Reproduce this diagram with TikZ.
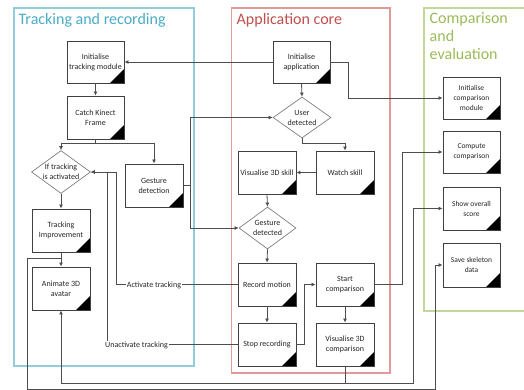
\documentclass[tikz,border=0pt]{standalone}
\usepackage{fontspec}
\setmainfont{Carlito}
\usetikzlibrary{arrows.meta,shapes.geometric}
\definecolor{boxc}{HTML}{404040}
\definecolor{diac}{HTML}{7F7F7F}
\definecolor{linec}{HTML}{4D4D4D}
\definecolor{txt}{HTML}{262626}
\definecolor{bluet}{HTML}{4BACC6}
\definecolor{blueb}{HTML}{92CDDC}
\definecolor{redt}{HTML}{C0504D}
\definecolor{redb}{HTML}{E09A98}
\definecolor{greent}{HTML}{9BBB59}
\definecolor{greenb}{HTML}{C3D69B}
\begin{document}
\begin{tikzpicture}[x=1pt,y=-1pt,
  stepbox/.style={draw=boxc, line width=0.9pt, fill=white, minimum width=58pt, minimum height=43pt,
    align=center, inner sep=1pt, font=\fontsize{8}{10}\selectfont, text=txt,
    path picture={\fill[black] (path picture bounding box.south east) -- ++(-14pt,0pt) -- ++(14pt,14pt) -- cycle;}},
  decision/.style={diamond, draw=diac, line width=0.7pt, fill=white, inner sep=0pt,
    minimum width=58pt, minimum height=42pt},
  dtext/.style={align=center, font=\fontsize{8}{10}\selectfont, text=txt, inner sep=0pt},
  conn/.style={draw=linec, line width=0.8pt},
  arr/.style={conn, -{Latex[length=4pt,width=4pt]}},
  lane/.style={line width=1.8pt},
  lanetitle/.style={anchor=base west, inner sep=0pt, font=\fontsize{16}{18}\selectfont, align=left},
  lbl/.style={fill=white, inner sep=1pt, font=\fontsize{8}{10}\selectfont, text=txt}]
\useasboundingbox (0,0) rectangle (524,389);
\fill[white] (0,0) rectangle (524,389);

% lanes
\draw[lane, blueb] (14,8) rectangle (194,366);
\draw[lane, redb] (231.5,8) rectangle (390,373);
\draw[lane, greenb] (424,8) rectangle (530,311);
\node[lanetitle, text=bluet] (t1) at (18.5,24.5) {Tracking and recording};
\node[lanetitle, text=redt] (t2) at (236.5,24.5) {Application core};
\node[lanetitle, text=greent, anchor=north west] (t3) at (429.5,12) {Comparison\\and\\evaluation};

% tracking and recording
\node[stepbox, minimum width=57pt, minimum height=42pt] (itm) at (95.5,62) {Initialise\\tracking module};
\node[stepbox, minimum width=57pt] (ckf) at (95.5,117.5) {Catch Kinect\\Frame};
\node[decision, minimum width=59pt, minimum height=43pt,
  label={[dtext]center:If tracking\\is activated}] (iftr) at (61,172) {};
\node[stepbox] (gdet) at (154,185.5) {Gesture\\detection};
\node[stepbox] (timp) at (61,230.5) {Tracking\\Improvement};
\node[stepbox] (anim) at (61,288.5) {Animate 3D\\avatar};

% application core
\node[stepbox, minimum width=57pt, minimum height=42pt] (iapp) at (301.5,62) {Initialise\\application};
\node[decision, minimum width=58pt, minimum height=41pt,
  label={[dtext]center:User\\detected}] (user) at (302,117.5) {};
\node[stepbox] (vis3d) at (267,172.5) {Visualise 3D skill};
\node[stepbox] (watch) at (345,172.5) {Watch skill};
\node[decision, minimum width=57pt, minimum height=42pt,
  label={[dtext]center:Gesture\\detected}] (gest) at (267.5,228) {};
\node[stepbox] (rec) at (267,284.5) {Record motion};
\node[stepbox] (startc) at (345,284.5) {Start\\comparison};
\node[stepbox] (stop) at (267,344.5) {Stop recording};
\node[stepbox] (vis3dc) at (345,344.5) {Visualise 3D\\comparison};

% comparison and evaluation
\node[stepbox, minimum width=57pt, minimum height=42pt, font=\fontsize{7.5}{10}\selectfont] (icm) at (471.5,98) {Initialise\\comparison\\module};
\node[stepbox, minimum width=57pt, minimum height=42pt, font=\fontsize{7.5}{10}\selectfont] (compc) at (471.5,152) {Compute\\comparison};
\node[stepbox, minimum width=57pt, minimum height=43pt, font=\fontsize{7.5}{10}\selectfont] (score) at (471.5,208.5) {Show overall\\score};
\node[stepbox, minimum width=57pt, minimum height=44pt, font=\fontsize{7.5}{10}\selectfont] (save) at (471.5,265) {Save skeleton\\data};

% junction coordinates
\coordinate (jck) at (95.5,143);
\coordinate (jgd) at (190,185.5);
\coordinate (jti) at (61,258);
\coordinate (jvc) at (345,383);

% connectors
\draw[arr] (iapp.west) -- (itm.east);
\draw[arr] (iapp.east) -- (348,62) |- (icm.west);
\draw[arr] (iapp.south) -- (user.north);
\draw[arr] (user.south) -- (302,143) -| (watch.north);
\draw[arr] (watch.west) -- (vis3d.east);
\draw[arr] (vis3d.south) -- (gest.north);
\draw[conn] (gdet.east) -- (jgd);
\draw[arr] (jgd) |- (user.west);
\draw[arr] (jgd) |- (gest.west);
\draw[arr] (itm.south) -- (ckf.north);
\draw[conn] (ckf.south) -- (jck);
\draw[arr] (jck) -| (iftr.north);
\draw[arr] (jck) -| (gdet.north);
\draw[arr] (iftr.south) -- (timp.north);
\draw[arr] (timp.south) -- (anim.north);
\draw[arr] (jti) -| (27,389) -- (435,389) |- (save.west);
\draw[arr] (gest.south) -- (rec.north);
\draw[arr] (rec.south) -- (stop.north);
\draw[arr] (stop.east) -- (304,344.5) |- (startc.west);
\draw[arr] (startc.south) -- (vis3dc.north);
\draw[arr] (startc.east) -- (402.5,284.5) |- (compc.west);
\draw[conn] (vis3dc.south) -- (jvc);
\draw[arr] (jvc) -| (anim.south);
\draw[arr] (jvc) -- (413,383) |- (score.west);
\draw[arr] (rec.west) -- (116,284.5) |- (iftr.east);
\draw[arr] (stop.west) -- (107,344.5) |- (iftr.east);
\node[lbl] (lact) at (154,285) {Activate tracking};
\node[lbl, anchor=west] (lunact) at (104,345.5) {Unactivate tracking};
\end{tikzpicture}
\end{document}
